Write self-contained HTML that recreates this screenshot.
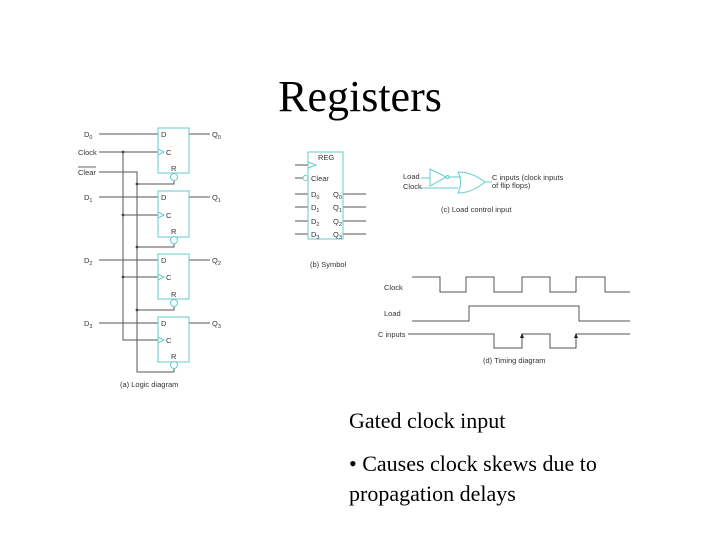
<!DOCTYPE html>
<html><head><style>body{margin:0;background:#fff}svg{display:block}</style></head><body>
<svg width="720" height="540" viewBox="0 0 720 540" xmlns="http://www.w3.org/2000/svg">
<rect width="720" height="540" fill="#fff"/>
<text x="360" y="111" font-family="Liberation Serif" font-size="44" text-anchor="middle">Registers</text>
<g font-family="Liberation Serif" font-size="22">
<text x="349" y="428">Gated clock input</text>
<text x="349" y="471">• Causes clock skews due to</text>
<text x="349" y="501">propagation delays</text>
</g>
<g font-family="Liberation Sans" font-size="7.5" fill="#333">
<g stroke="#555" stroke-width="1" fill="none">
<path d="M99 134H158M99 197H158M99 260H158M99 323H158"/>
<path d="M99 152H158M123 152V340H158M123 215H158M123 277H158"/>
<path d="M99 172H137V372H174M137 184H174V181M137 247H174V244M137 310H174V306M174 372V368"/>
<path d="M189 134H210M189 197H210M189 260H210M189 323H210"/>
</g>
<g fill="#444"><circle cx="123" cy="152" r="1.4"/><circle cx="123" cy="215" r="1.4"/><circle cx="123" cy="277" r="1.4"/><circle cx="137" cy="184" r="1.4"/><circle cx="137" cy="247" r="1.4"/><circle cx="137" cy="310" r="1.4"/></g>
<g stroke="#6cc" stroke-width="1" fill="#fff">
<rect x="158" y="128" width="31" height="45"/><rect x="158" y="191" width="31" height="46"/><rect x="158" y="254" width="31" height="45"/><rect x="158" y="317" width="31" height="45"/>
<circle cx="174" cy="177" r="3.5"/><circle cx="174" cy="240" r="3.5"/><circle cx="174" cy="303" r="3.5"/><circle cx="174" cy="365" r="3.5"/>
<path d="M158 149L164 152L158 155M158 212L164 215L158 218M158 274L164 277L158 280M158 337L164 340L158 343" fill="none"/>
</g>
<g>
<text x="161" y="137">D</text><text x="166" y="155">C</text><text x="171" y="171">R</text>
<text x="161" y="200">D</text><text x="166" y="218">C</text><text x="171" y="234">R</text>
<text x="161" y="263">D</text><text x="166" y="280">C</text><text x="171" y="297">R</text>
<text x="161" y="326">D</text><text x="166" y="343">C</text><text x="171" y="359">R</text>
<text x="84" y="137">D<tspan font-size="5.5" dy="2">0</tspan></text>
<text x="78" y="155">Clock</text>
<text x="78" y="175">Clear</text><path d="M78 167H96" stroke="#333" stroke-width="0.7"/>
<text x="84" y="200">D<tspan font-size="5.5" dy="2">1</tspan></text>
<text x="84" y="263">D<tspan font-size="5.5" dy="2">2</tspan></text>
<text x="84" y="326">D<tspan font-size="5.5" dy="2">3</tspan></text>
<text x="212" y="137">Q<tspan font-size="5.5" dy="2">0</tspan></text>
<text x="212" y="200">Q<tspan font-size="5.5" dy="2">1</tspan></text>
<text x="212" y="263">Q<tspan font-size="5.5" dy="2">2</tspan></text>
<text x="212" y="326">Q<tspan font-size="5.5" dy="2">3</tspan></text>
<text x="120" y="387">(a) Logic diagram</text>
</g>
<!-- symbol -->
<g stroke="#555" fill="none"><path d="M295 165H308M295 178H303M295 194H308M295 207H308M295 221H308M295 234H308M343 194H366M343 207H366M343 221H366M343 234H366"/></g>
<g stroke="#6cc" fill="#fff"><rect x="308" y="152" width="35" height="87"/><circle cx="305.5" cy="178" r="2.5"/><path d="M308 162L316 165L308 168" fill="none"/></g>
<text x="318" y="160">REG</text><text x="311" y="181">Clear</text>
<text x="311" y="197">D<tspan font-size="5.5" dy="2">0</tspan></text><text x="311" y="210">D<tspan font-size="5.5" dy="2">1</tspan></text><text x="311" y="224">D<tspan font-size="5.5" dy="2">2</tspan></text><text x="311" y="237">D<tspan font-size="5.5" dy="2">3</tspan></text>
<text x="333" y="197">Q<tspan font-size="5.5" dy="2">0</tspan></text><text x="333" y="210">Q<tspan font-size="5.5" dy="2">1</tspan></text><text x="333" y="224">Q<tspan font-size="5.5" dy="2">2</tspan></text><text x="333" y="237">Q<tspan font-size="5.5" dy="2">3</tspan></text>
<text x="310" y="267">(b) Symbol</text>
<!-- gate -->
<g stroke="#6cc" fill="none">
<path d="M421 178H430M421 188H458M430 169L446 177L430 186Z"/><circle cx="447.5" cy="177" r="1.5"/>
<path d="M449 177H461M458 172Q472 172 485 182Q472 193 458 193Q463 182 458 172Z"/><path d="M485 182H492"/>
</g>
<text x="403" y="179">Load</text><text x="403" y="189">Clock</text>
<text x="492" y="180">C inputs (clock inputs</text><text x="492" y="188">of flip flops)</text>
<text x="441" y="212">(c)  Load control input</text>
<!-- timing -->
<g stroke="#555" fill="none">
<path d="M412 277H440V292H466V277H494V292H522V277H550V292H576V277H605V292H630"/>
<path d="M412 321H469V306H579V321H630"/>
<path d="M408 334H494V348H522V334H550V348H576V334H630"/>
</g>
<path d="M520 338L522 333L524 338Z M574 338L576 333L578 338Z" fill="#222"/>
<text x="384" y="290">Clock</text><text x="384" y="316">Load</text><text x="378" y="337">C inputs</text>
<text x="483" y="363">(d) Timing diagram</text>
</g>
</svg>
</body></html>
